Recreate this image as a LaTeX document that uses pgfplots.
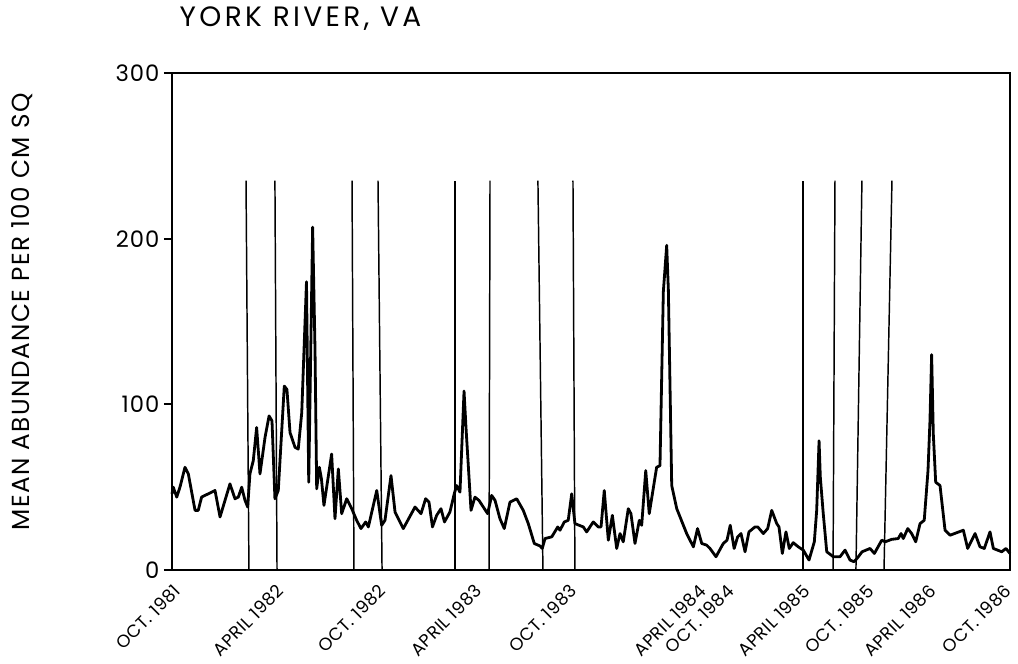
\documentclass[border=0pt]{standalone}
\usepackage{fontspec}
\setmainfont{Poppins}[LetterSpace=6]
\newfontfamily\titlefont[LetterSpace=12]{Poppins}
\newfontfamily\labelfont[LetterSpace=4]{Poppins}
\newfontfamily\xlabfont[LetterSpace=3]{Poppins}
\usepackage{pgfplots}
\pgfplotsset{compat=1.18}
\pgfplotstableread{
x y
0.00 46
0.09 50
0.34 44
0.57 50
0.93 62
1.17 58
1.65 36
1.88 36
2.12 44
3.08 48
3.44 32
4.15 52
4.51 43
4.75 44
4.99 50
5.23 42
5.42 38
5.58 58
5.82 66
6.06 86
6.30 58
6.66 80
6.95 93
7.16 90
7.37 43
7.61 48
8.04 111
8.23 109
8.45 83
8.81 74
9.04 73
9.29 95
9.63 174
9.79 53
10.07 207
10.24 133
10.36 49
10.55 62
10.70 55
10.88 39
11.43 70
11.67 31
11.91 61
12.15 34
12.51 43
12.87 37
13.22 30
13.53 25
13.87 29
14.06 26
14.66 48
15.01 27
15.25 30
15.68 57
15.97 35
16.56 25
17.40 38
17.83 34
18.16 43
18.40 41
18.65 26
18.95 33
19.26 37
19.51 29
19.90 35
20.21 46
20.38 51
20.62 47
20.91 108
21.05 86
21.41 36
21.69 44
21.98 42
22.60 34
22.89 45
23.13 42
23.48 31
23.79 25
24.20 41
24.68 43
25.15 36
25.51 28
25.94 16
26.35 14.5
26.51 13
26.71 19
27.19 20
27.62 26
27.78 24
28.09 29
28.37 30
28.62 46
28.85 28
29.45 26
29.69 23
30.16 29
30.52 26
30.72 26
30.95 48
31.24 18
31.53 33
31.84 13
32.08 22
32.31 17
32.67 37
32.86 34
33.15 16
33.46 30
33.63 27
33.92 60
34.17 34
34.70 62
34.94 63
35.18 168
35.42 196
35.54 169
35.78 51
36.14 37
36.85 22
37.33 14
37.63 25
37.93 16
38.28 15
38.52 13
38.95 8
39.47 16
39.74 18
39.97 27
40.25 13
40.50 20
40.74 22
41.03 11
41.31 23
41.74 26
41.94 26
42.34 22
42.65 25
42.94 36
43.30 28
43.46 26
43.70 10
43.96 23
44.20 13
44.48 16.5
44.84 14
45.20 12
45.61 6
45.99 17
46.16 36
46.33 78
46.42 56
46.63 34
46.88 11
47.35 8
47.83 8
48.19 12
48.55 6
48.83 5
49.05 7
49.41 11
49.98 13
50.29 10
50.82 18
51.06 17
51.53 18.5
52.00 19
52.20 22
52.36 19
52.68 25
52.96 22
53.25 17
53.56 28
53.86 30
54.13 60
54.27 90
54.39 130
54.51 82
54.68 53
54.99 51
55.35 24
55.71 21
56.66 24
56.97 13
57.50 22
57.85 14
58.16 13
58.57 23
58.81 13
59.41 11
59.71 13
60.00 10
}\abundance
\begin{document}
\begin{tikzpicture}
\begin{axis}[
  scale only axis, width=628.5pt, height=372.75pt,
  xmin=0, xmax=60, ymin=0, ymax=300,
  clip=false,
  axis line style={line width=1.3pt},
  ytick={0,100,200,300},
  ytick pos=left, tick align=outside,
  major tick length=6pt,
  ytick style={line width=1.6pt, black},
  xtick={0.26,7.64,14.94,21.82,28.62,37.85,39.86,45.30,49.88,54.32,59.7},
  xticklabels={OCT. 1981, APRIL 1982, OCT. 1982, APRIL 1983, OCT. 1983, APRIL 1984, OCT. 1984, APRIL 1985, OCT. 1985, APRIL 1986, OCT. 1986},
  xtick style={draw=none},
  xticklabel style={rotate=45, anchor=north east, inner sep=1pt, xshift=-3pt, yshift=0pt, font=\xlabfont\fontsize{13.2}{15}\selectfont},
  yticklabel style={font=\labelfont\fontsize{17}{19}\selectfont},
  /pgf/number format/assume math mode=true,
]
\addplot[black, line width=2.1pt, line join=round] table[x=x,y=y] {\abundance};
\addplot[black, line width=1.1pt] coordinates {(5.51,0) (5.30,235)};
\addplot[black, line width=1.1pt] coordinates {(7.52,0) (7.37,235)};
\addplot[black, line width=1.1pt] coordinates {(13.03,0) (12.89,235)};
\addplot[black, line width=1.1pt] coordinates {(15.04,0) (14.75,235)};
\addplot[black, line width=1.3pt] coordinates {(20.26,0) (20.26,235)};
\addplot[black, line width=1.1pt] coordinates {(22.70,0) (22.77,235)};
\addplot[black, line width=1.1pt] coordinates {(26.56,0) (26.20,235)};
\addplot[black, line width=1.1pt] coordinates {(28.85,0) (28.71,235)};
\addplot[black, line width=1.1pt] coordinates {(45.18,0) (45.18,235)};
\addplot[black, line width=1.1pt] coordinates {(47.33,0) (47.47,235)};
\addplot[black, line width=1.1pt] coordinates {(48.97,0) (49.40,235)};
\addplot[black, line width=1.1pt] coordinates {(50.98,0) (51.55,235)};
\node[anchor=base west, font=\titlefont\fontsize{21}{23}\selectfont] at (rel axis cs:0.0036,1.0926) {YORK RIVER, VA};
\node[rotate=90, font=\fontsize{18.5}{20}\selectfont] at (rel axis cs:-0.179,0.519) {MEAN ABUNDANCE PER 100 CM SQ};
\coordinate (bl) at (rel axis cs:0,0);
\end{axis}
\pgfresetboundingbox
\useasboundingbox ([xshift=-129pt,yshift=-70.5pt]bl) rectangle ++(763.5pt,498pt);
\end{tikzpicture}
\end{document}
